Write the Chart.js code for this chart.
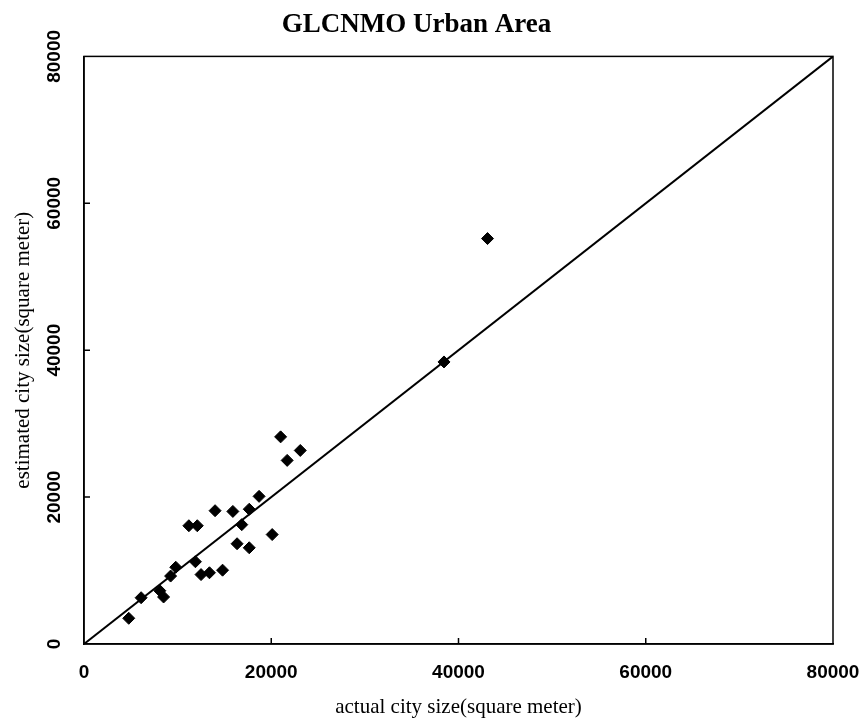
<!DOCTYPE html>
<html>

<head>
    <title>GLCNMO Urban Area</title>
    <meta charset="UTF-8">
    <script src="https://cdn.jsdelivr.net/npm/chart.js"></script>
    <style>
        body {
            margin: 0;
            background-color: #fff;
        }
    </style>
</head>

<body>
    <canvas id="urbanChart" width="862" height="720"></canvas>

    <script>
        // actual vs estimated city size
        var actualSize = [4780, 6100, 8100, 8500, 9250, 9800, 11200, 12100, 11900, 12500, 13400, 14800,
            14000, 15900, 16350, 16850, 17650, 17650, 18700, 20100, 21000, 21700, 23100, 38450, 43100];
        var estimatedSize = [3500, 6300, 7250, 6400, 9250, 10450, 16100, 16100, 11200, 9450, 9700, 10050,
            18150, 18050, 13650, 16250, 18350, 13100, 20100, 14900, 28200, 25000, 26350, 38400, 55200];

        // 1:1 reference line
        var lineX = [0, 80000];
        var lineY = [0, 80000];

        var axisTicks = [0, 20000, 40000, 60000, 80000];

        var scatterPoints = actualSize.map(function (v, i) {
            return { x: v, y: estimatedSize[i] };
        });
        var linePoints = lineX.map(function (v, i) {
            return { x: v, y: lineY[i] };
        });

        // frame box + tick marks pointing inside the plot
        var frameAndTicks = {
            id: 'frameAndTicks',
            afterDatasetsDraw: function (chart) {
                var ctx = chart.ctx;
                var area = chart.chartArea;
                var xs = chart.scales.x;
                var ys = chart.scales.y;
                ctx.save();
                ctx.strokeStyle = '#000';
                ctx.lineWidth = 1.5;
                ctx.strokeRect(area.left, area.top, area.right - area.left, area.bottom - area.top);
                axisTicks.slice(1, -1).forEach(function (t) {
                    var px = xs.getPixelForValue(t);
                    var py = ys.getPixelForValue(t);
                    ctx.beginPath();
                    ctx.moveTo(px, area.bottom);
                    ctx.lineTo(px, area.bottom - 6);
                    ctx.moveTo(area.left, py);
                    ctx.lineTo(area.left + 6, py);
                    ctx.stroke();
                });
                ctx.restore();
            }
        };

        var tickFont = { family: "'Liberation Sans', Arial, sans-serif", size: 19, weight: 'bold' };
        var titleFont = { family: "'Liberation Serif', 'Times New Roman', serif", size: 21, weight: 'normal' };

        var ctx = document.getElementById('urbanChart').getContext('2d');
        var urbanChart = new Chart(ctx, {
            type: 'scatter',
            data: {
                datasets: [{
                    label: 'cities',
                    data: scatterPoints,
                    pointStyle: 'rectRot',
                    pointRadius: 6,
                    pointHoverRadius: 6,
                    backgroundColor: '#000',
                    borderColor: '#000',
                    borderWidth: 1
                }, {
                    type: 'line',
                    label: '1:1',
                    data: linePoints,
                    borderColor: '#000',
                    borderWidth: 2,
                    pointRadius: 0,
                    fill: false
                }]
            },
            options: {
                responsive: false,
                animation: false,
                layout: {
                    padding: { left: 0, right: 29, top: 0, bottom: 0 }
                },
                plugins: {
                    legend: { display: false },
                    tooltip: { enabled: false },
                    title: {
                        display: true,
                        text: 'GLCNMO Urban Area',
                        color: '#000',
                        font: { family: "'Liberation Serif', 'Times New Roman', serif", size: 27, weight: 'bold' },
                        padding: { top: 9, bottom: 15 }
                    }
                },
                scales: {
                    x: {
                        type: 'linear',
                        min: 0,
                        max: 80000,
                        afterBuildTicks: function (scale) {
                            scale.ticks = axisTicks.map(function (v) { return { value: v }; });
                        },
                        afterFit: function (scale) {
                            scale.height = 76;
                            scale.paddingLeft = 0;
                            scale.paddingRight = 0;
                        },
                        grid: { display: true, drawOnChartArea: false, drawTicks: false },
                        border: { display: true, color: '#000', width: 1.5 },
                        ticks: {
                            color: '#000',
                            font: tickFont,
                            padding: 17,
                            maxRotation: 0,
                            callback: function (v) { return String(v); }
                        },
                        title: {
                            display: true,
                            text: 'actual city size(square meter)',
                            color: '#000',
                            font: titleFont,
                            padding: { top: 0, bottom: 0 }
                        }
                    },
                    y: {
                        type: 'linear',
                        min: 0,
                        max: 80000,
                        afterBuildTicks: function (scale) {
                            scale.ticks = axisTicks.map(function (v) { return { value: v }; });
                        },
                        afterFit: function (scale) {
                            scale.width = 84;
                            scale.paddingTop = 0;
                            scale.paddingBottom = 0;
                        },
                        grid: { display: true, drawOnChartArea: false, drawTicks: false },
                        border: { display: true, color: '#000', width: 1.5 },
                        ticks: {
                            color: '#000',
                            font: tickFont,
                            padding: 3,
                            minRotation: 90,
                            maxRotation: 90,
                            crossAlign: 'center',
                            callback: function (v) { return String(v); }
                        },
                        title: {
                            display: true,
                            text: 'estimated city size(square meter)',
                            color: '#000',
                            font: titleFont,
                            padding: { top: 11, bottom: 0 }
                        }
                    }
                }
            },
            plugins: [frameAndTicks]
        });
    </script>
</body>

</html>
